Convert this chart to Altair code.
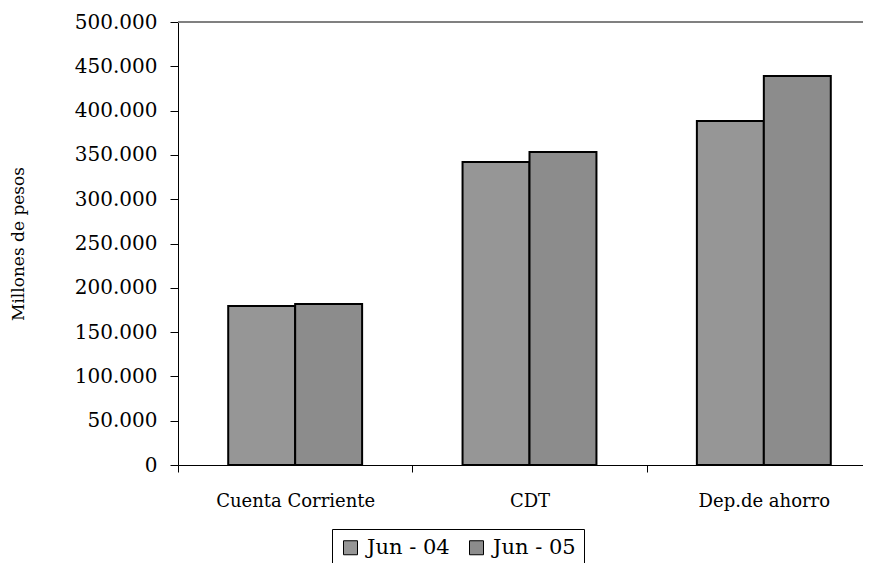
import altair as alt
import pandas as pd

categories = ["Cuenta Corriente", "CDT", "Dep.de ahorro"]
series = ["Jun - 04", "Jun - 05"]
jun04 = [179500, 342000, 388300]
jun05 = [181700, 353300, 439000]
y_ticks = [0, 50000, 100000, 150000, 200000, 250000, 300000, 350000, 400000, 450000, 500000]
y_title = "Millones de pesos"
colors = ["#969696", "#8c8c8c"]

rows = []
for c, a, b in zip(categories, jun04, jun05):
    rows.append({"cat": c, "serie": series[0], "valor": a})
    rows.append({"cat": c, "serie": series[1], "valor": b})
df = pd.DataFrame(rows)

FONT = "DejaVu Serif"
W, H = 685, 443
BAND_RANGE = 703

bars = alt.Chart(df).mark_bar(stroke="black", strokeWidth=2).encode(
    x=alt.X(
        "cat:N", sort=categories,
        scale=alt.Scale(range=[0, BAND_RANGE], paddingInner=0, paddingOuter=0),
        axis=alt.Axis(title=None, tickBand="extent", labelAngle=0, labelFont=FONT,
                      labelFontSize=18, labelColor="black", domainColor="black",
                      tickColor="black", tickSize=7, labelPadding=20,
                      labelBaseline="top"),
    ),
    xOffset=alt.XOffset("serie:N", sort=series,
                        scale=alt.Scale(paddingInner=0, paddingOuter=0.75)),
    y=alt.Y(
        "valor:Q",
        scale=alt.Scale(domain=[0, 500000], nice=False),
        axis=alt.Axis(values=y_ticks, title=y_title, grid=False,
                      labelExpr="replace(format(datum.value, ','), ',', '.')",
                      labelFont=FONT, labelFontSize=20, labelColor="black",
                      domainColor="black", tickColor="black", tickSize=8,
                      labelPadding=13, titleFont=FONT, titleFontSize=17,
                      titleFontWeight="normal", titleColor="black",
                      titleX=-160, titleY=H / 2, titleAngle=270,
                      titleAlign="center", titleBaseline="middle"),
    ),
    fill=alt.Fill(
        "serie:N", sort=series,
        scale=alt.Scale(domain=series, range=colors),
        legend=alt.Legend(title=None, orient="none", legendX=154, legendY=507,
                          direction="horizontal", strokeColor="black",
                          fillColor="white", padding=8, symbolType="square",
                          symbolSize=196, symbolStrokeColor="black",
                          symbolStrokeWidth=1, labelFont=FONT, labelFontSize=21,
                          labelColor="black", columnPadding=16, labelOffset=6),
    ),
)

top_line = alt.Chart(pd.DataFrame({"y": [500000]})).mark_rule(
    color="#808080", strokeWidth=2
).encode(
    y=alt.Y("y:Q"),
    x=alt.value(0),
    x2=alt.value(BAND_RANGE),
)

chart = alt.layer(top_line, bars).properties(
    width=W, height=H,
    autosize=alt.AutoSizeParams(type="none"),
    padding={"left": 170, "top": 14, "right": 0, "bottom": 98},
).configure_view(stroke=None)

chart.save("out.html", embed_options={"renderer": "svg", "actions": False})
